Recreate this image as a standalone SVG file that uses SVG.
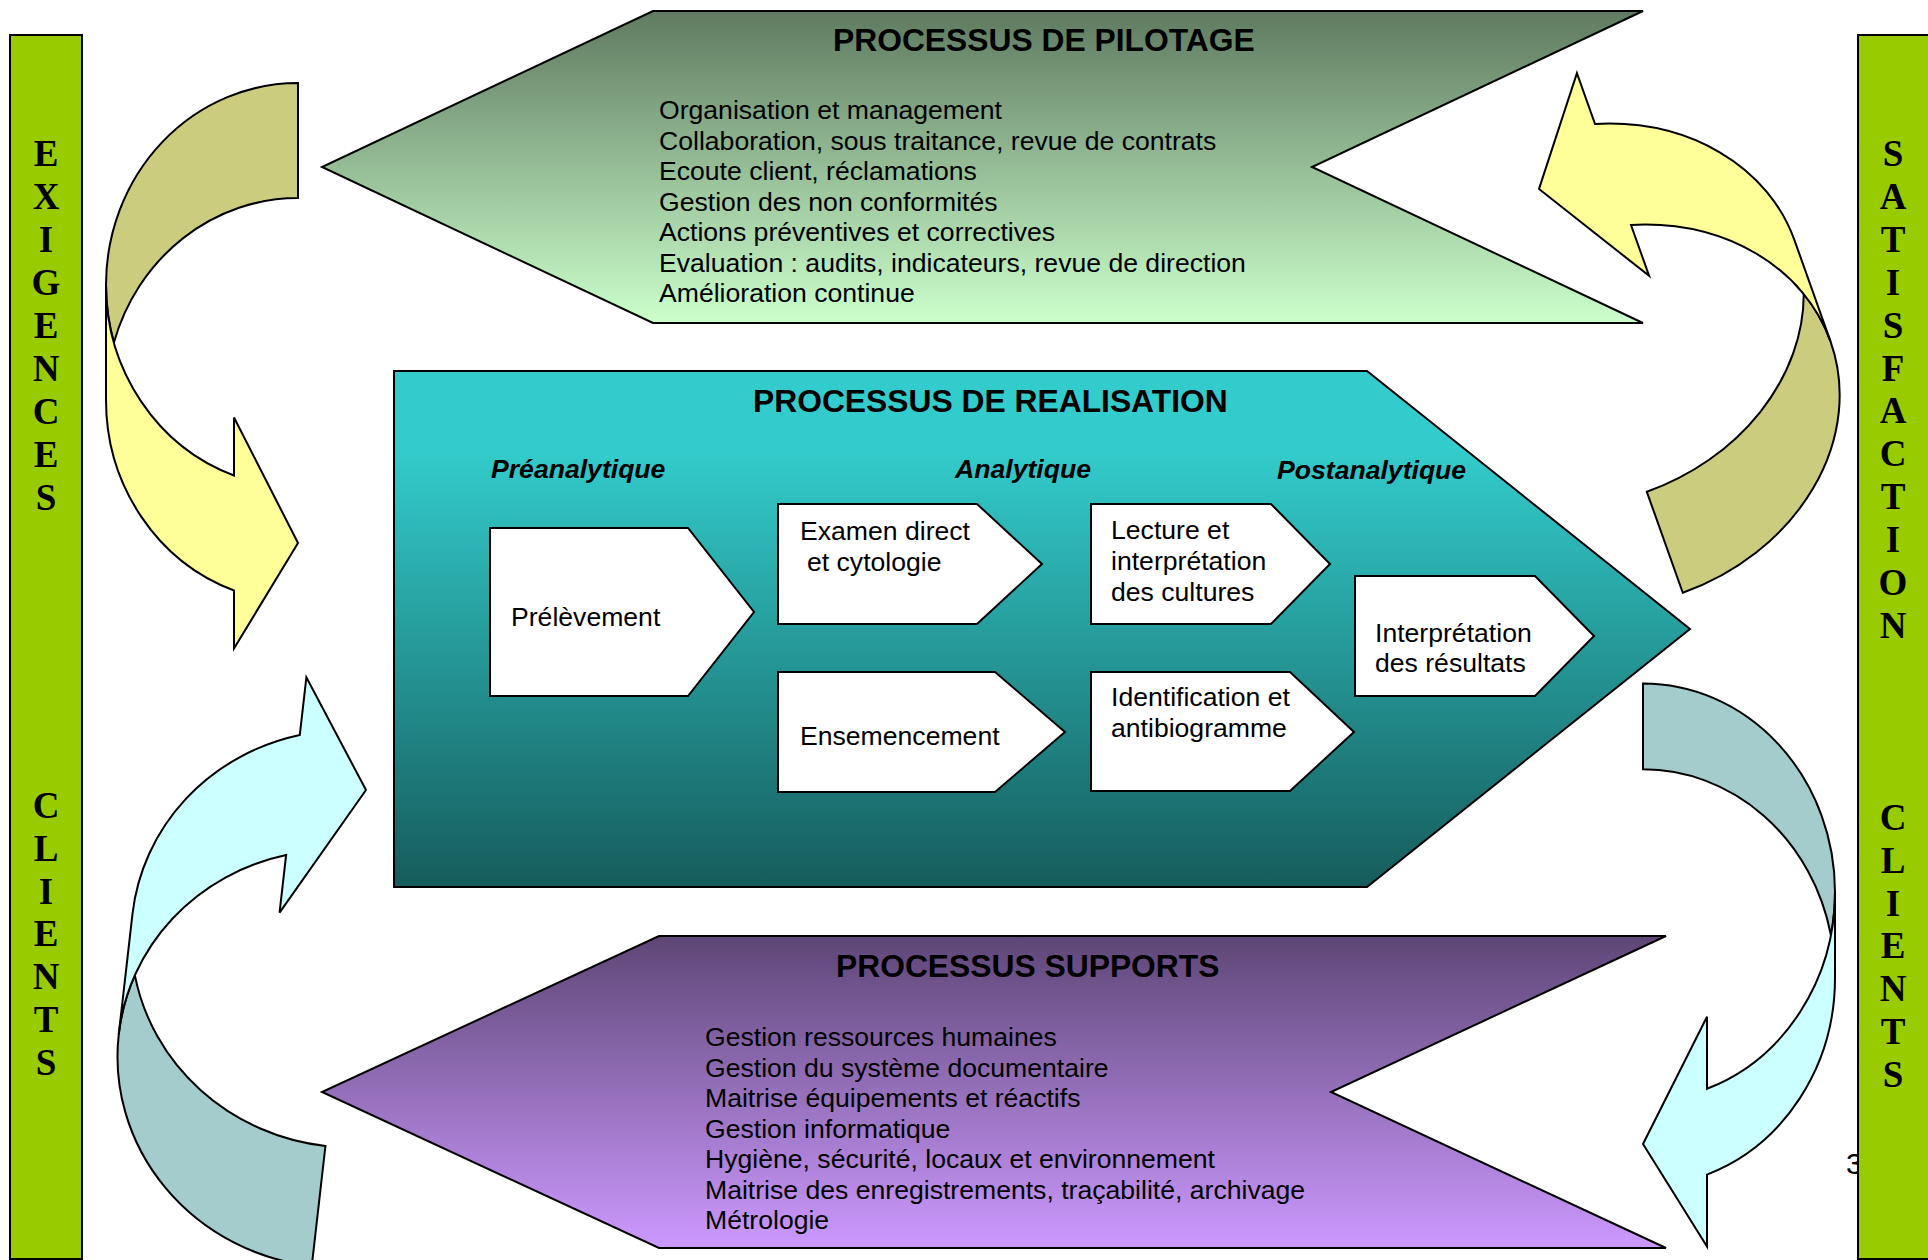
<svg xmlns="http://www.w3.org/2000/svg" width="1928" height="1260" viewBox="0 0 1928 1260">
<defs>
<linearGradient id="gPil" x1="0" y1="0" x2="0" y2="1"><stop offset="0" stop-color="#5F7A60"/><stop offset="1" stop-color="#CCFFCC"/></linearGradient>
<linearGradient id="gRea" x1="0" y1="0" x2="0" y2="1"><stop offset="0" stop-color="#33CCCC"/><stop offset="0.15" stop-color="#33CCCC"/><stop offset="1" stop-color="#165C5C"/></linearGradient>
<linearGradient id="gSup" x1="0" y1="0" x2="0" y2="1"><stop offset="0" stop-color="#5E4676"/><stop offset="1" stop-color="#CC99FF"/></linearGradient>
<style>
.ol{stroke:#000;stroke-width:2;stroke-linejoin:miter}
.box{fill:#fff;stroke:#000;stroke-width:2}
.bar{fill:#99CC00;stroke:#000;stroke-width:2}
.vl{font-family:"Liberation Serif","Times New Roman",serif;font-weight:bold;font-size:37px;fill:#000;text-anchor:middle}
.tt{font-family:"Liberation Sans",Arial,sans-serif;font-weight:bold;font-size:31.8px;fill:#000}
.bd{font-family:"Liberation Sans",Arial,sans-serif;font-size:26.6px;fill:#000}
.ph{font-family:"Liberation Sans",Arial,sans-serif;font-weight:bold;font-style:italic;font-size:26.6px;fill:#000}
.yb{fill:#CCCC7F}
.yf{fill:#FFFF99}
.cb{fill:#A5CCCC}
.cf{fill:#CCFFFF}
</style>
</defs>
<rect width="1928" height="1260" fill="#fff"/>

<text class="bd" x="1846" y="1174" style="font-size:30px">3</text>

<g id="bar-left">
<rect class="bar" x="10" y="35" width="72" height="1224"/>
<text class="vl"><tspan x="46" y="166">E</tspan><tspan x="46" y="209">X</tspan><tspan x="46" y="252">I</tspan><tspan x="46" y="295">G</tspan><tspan x="46" y="338">E</tspan><tspan x="46" y="381">N</tspan><tspan x="46" y="424">C</tspan><tspan x="46" y="467">E</tspan><tspan x="46" y="510">S</tspan></text>
<text class="vl"><tspan x="46" y="818">C</tspan><tspan x="46" y="861">L</tspan><tspan x="46" y="904">I</tspan><tspan x="46" y="946">E</tspan><tspan x="46" y="989">N</tspan><tspan x="46" y="1032">T</tspan><tspan x="46" y="1075">S</tspan></text>
</g>

<g id="bar-right">
<rect class="bar" x="1858" y="35" width="76" height="1224"/>
<text class="vl"><tspan x="1893" y="166">S</tspan><tspan x="1893" y="209">A</tspan><tspan x="1893" y="252">T</tspan><tspan x="1893" y="295">I</tspan><tspan x="1893" y="338">S</tspan><tspan x="1893" y="381">F</tspan><tspan x="1893" y="423">A</tspan><tspan x="1893" y="466">C</tspan><tspan x="1893" y="509">T</tspan><tspan x="1893" y="552">I</tspan><tspan x="1893" y="595">O</tspan><tspan x="1893" y="638">N</tspan></text>
<text class="vl"><tspan x="1893" y="830">C</tspan><tspan x="1893" y="873">L</tspan><tspan x="1893" y="916">I</tspan><tspan x="1893" y="958">E</tspan><tspan x="1893" y="1001">N</tspan><tspan x="1893" y="1044">T</tspan><tspan x="1893" y="1087">S</tspan></text>
</g>

<g id="pilotage">
<polygon class="ol" fill="url(#gPil)" points="653,11 1643,11 1312,167 1643,323 653,323 322,167"/>
<text class="tt" x="833" y="51">PROCESSUS DE PILOTAGE</text>
<text class="bd"><tspan x="659" y="119">Organisation et management</tspan><tspan x="659" y="149.5">Collaboration, sous traitance, revue de contrats</tspan><tspan x="659" y="180">Ecoute client, réclamations</tspan><tspan x="659" y="210.5">Gestion des non conformités</tspan><tspan x="659" y="241">Actions préventives et correctives</tspan><tspan x="659" y="271.5">Evaluation : audits, indicateurs, revue de direction</tspan><tspan x="659" y="302">Amélioration continue</tspan></text>
</g>

<g id="realisation">
<polygon class="ol" fill="url(#gRea)" points="394,371 1367,371 1690,629 1367,887 394,887"/>
<text class="tt" x="753" y="412">PROCESSUS DE REALISATION</text>
<text class="ph" x="491" y="478">Préanalytique</text>
<text class="ph" x="955" y="478">Analytique</text>
<text class="ph" x="1277" y="479">Postanalytique</text>
</g>

<g id="prelevement">
<polygon class="box" points="490,528 688,528 754,612 688,696 490,696"/>
<text class="bd" x="511" y="626">Prélèvement</text>
</g>
<g id="examen">
<polygon class="box" points="778,504 977,504 1042,564 977,624 778,624"/>
<text class="bd"><tspan x="800" y="540">Examen direct</tspan><tspan x="807" y="571">et cytologie</tspan></text>
</g>
<g id="ensemencement">
<polygon class="box" points="778,672 995,672 1065,732 995,792 778,792"/>
<text class="bd" x="800" y="745">Ensemencement</text>
</g>
<g id="lecture">
<polygon class="box" points="1091,504 1271,504 1330,564 1271,624 1091,624"/>
<text class="bd"><tspan x="1111" y="539">Lecture et</tspan><tspan x="1111" y="570">interprétation</tspan><tspan x="1111" y="601">des cultures</tspan></text>
</g>
<g id="identification">
<polygon class="box" points="1091,672 1290,672 1354,732 1290,791 1091,791"/>
<text class="bd"><tspan x="1111" y="706">Identification et</tspan><tspan x="1111" y="737">antibiogramme</tspan></text>
</g>
<g id="interpretation">
<polygon class="box" points="1355,576 1535,576 1594,636 1535,696 1355,696"/>
<text class="bd"><tspan x="1375" y="642">Interprétation</tspan><tspan x="1375" y="672">des résultats</tspan></text>
</g>

<g id="supports">
<polygon class="ol" fill="url(#gSup)" points="659,936 1666,936 1331,1092 1666,1248 659,1248 322,1092"/>
<text class="tt" x="836" y="977">PROCESSUS SUPPORTS</text>
<text class="bd"><tspan x="705" y="1046">Gestion ressources humaines</tspan><tspan x="705" y="1076.5">Gestion du système documentaire</tspan><tspan x="705" y="1107">Maitrise équipements et réactifs</tspan><tspan x="705" y="1137.5">Gestion informatique</tspan><tspan x="705" y="1168">Hygiène, sécurité, locaux et environnement</tspan><tspan x="705" y="1198.5">Maitrise des enregistrements, traçabilité, archivage</tspan><tspan x="705" y="1229">Métrologie</tspan></text>
</g>

<g id="connectors">
<g id="arrow-exigences" transform="translate(298,543)">
<path class="ol yb" d="M0,-460 A192 202 0 0 0 -192,-258 A192 202 0 0 0 -184.06,-200.5 A192 202 0 0 1 0,-345 Z"/>
<path class="ol yf" d="M-192,-258 A192 202 0 0 0 -64,-67.55 L-64,-125.55 L0,0 L-64,105.45 L-64,47.45 A192 202 0 0 1 -192,-143 Z"/>
</g>
<g id="arrow-clients-in" transform="translate(366,790) rotate(6.5) scale(1,-1)">
<path class="ol cb" d="M0,-479.1 A218 208.6 0 0 0 -218,-270.5 A218 208.6 0 0 0 -208.7,-210.1 A218 208.6 0 0 1 0,-358.3 Z"/>
<path class="ol cf" d="M-218,-270.5 A218 208.6 0 0 0 -72,-73.6 L-72,-131.6 L0,0 L-72,105.2 L-72,47.2 A218 208.6 0 0 1 -218,-149.7 Z"/>
</g>
<g id="arrow-satisfaction" transform="translate(1539,189) rotate(160.4)">
<path class="ol yb" d="M0,-428.6 A223.5 187.3 0 0 0 -223.5,-241.3 A223.5 187.3 0 0 0 -214.2,-187.7 A223.5 187.3 0 0 1 0,-321.4 Z"/>
<path class="ol yf" d="M-223.5,-241.3 A223.5 187.3 0 0 0 -74.6,-64.75 L-74.6,-118.75 L0,0 L-74.6,96.45 L-74.6,42.45 A223.5 187.3 0 0 1 -223.5,-134.1 Z"/>
</g>
<g id="arrow-clients-out" transform="translate(1643,1144) scale(-1,1)">
<path class="ol cb" d="M0,-460.5 A192 208.6 0 0 0 -192,-251.9 A192 208.6 0 0 0 -187.9,-209 A192 208.6 0 0 1 0,-374.7 Z"/>
<path class="ol cf" d="M-192,-251.9 A192 208.6 0 0 0 -64,-55.23 L-64,-127.23 L0,0 L-64,102.57 L-64,30.57 A192 208.6 0 0 1 -192,-166.1 Z"/>
</g>
</g>
</svg>
